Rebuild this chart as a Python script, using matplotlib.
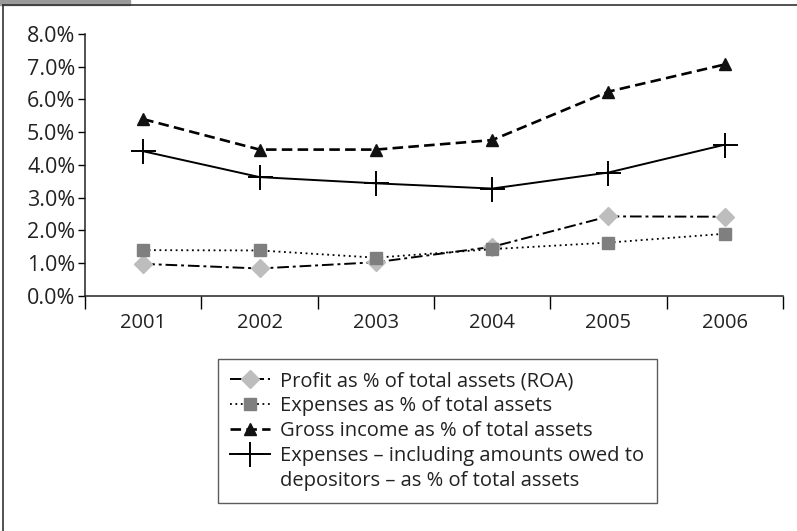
import numpy as np
import matplotlib
matplotlib.use("Agg")
import matplotlib.pyplot as plt
from matplotlib.ticker import FuncFormatter
from matplotlib.patches import Rectangle
from matplotlib.lines import Line2D

plt.rcParams['font.family'] = ['Open Sans', 'DejaVu Sans']

years = ['2001', '2002', '2003', '2004', '2005', '2006']
# values in percent of total assets
roa = [0.98, 0.84, 1.03, 1.50, 2.43, 2.42]
expenses = [1.40, 1.39, 1.17, 1.43, 1.63, 1.90]
gross_income = [5.40, 4.47, 4.47, 4.76, 6.24, 7.07]
expenses_incl = [4.42, 3.63, 3.44, 3.28, 3.77, 4.62]

labels = ['Profit as % of total assets (ROA)',
          'Expenses as % of total assets',
          'Gross income as % of total assets',
          'Expenses \u2013 including amounts owed to',
          'depositors \u2013 as % of total assets']

fig = plt.figure(figsize=(7.97, 5.31), dpi=100)
ax = fig.add_axes([0.1067, 0.4426, 0.8757, 0.4934])

x = np.arange(len(years))
l1, = ax.plot(x, roa, color='black', ls=(0, (6, 2, 1.5, 2)), lw=1.4,
              marker='D', ms=9, mfc='#bdbdbd', mec='#bdbdbd')
l2, = ax.plot(x, expenses, color='black', ls=(0, (1, 2)), lw=1.3,
              marker='s', ms=8.5, mfc='#7f7f7f', mec='#7f7f7f')
l3, = ax.plot(x, gross_income, color='black', ls=(0, (4, 2)), lw=1.9,
              marker='^', ms=9, mfc='#111111', mec='#111111')
l4, = ax.plot(x, expenses_incl, color='black', ls='-', lw=1.4,
              marker='+', ms=18, mew=1.4)
blank = Line2D([], [], color='none')

ax.set_xlim(-0.5, len(years) - 0.5)
ax.set_ylim(0, 8)
ax.set_yticks(np.arange(0, 8.1, 1))
ax.yaxis.set_major_formatter(FuncFormatter(lambda v, p: '%.1f%%' % v))
ax.set_xticks(np.arange(-0.5, len(years), 1))
ax.set_xticklabels([])
ax.set_xticks(x, minor=True)
ax.set_xticklabels(years, minor=True)
ax.tick_params(axis='x', which='major', length=9, width=1, direction='out')
ax.tick_params(axis='x', which='minor', length=0, pad=12, labelsize=14.5)
ax.tick_params(axis='y', length=5, width=1, direction='out', labelsize=15.5, pad=2)
for s in ['top', 'right']:
    ax.spines[s].set_visible(False)
for s in ['left', 'bottom']:
    ax.spines[s].set_color('#222222')
    ax.spines[s].set_linewidth(1.1)
for t in ax.get_xticklabels(minor=True) + ax.get_yticklabels():
    t.set_color('#222222')

leg = fig.legend([l1, l2, l3, l4, blank], labels, loc='upper left',
                 bbox_to_anchor=(0.2735, 0.324), bbox_transform=fig.transFigure,
                 fancybox=False, edgecolor='#333333', fontsize=14.5,
                 handlelength=2.0, handletextpad=0.5, labelspacing=0.25,
                 borderpad=0.6, borderaxespad=0, frameon=True)
leg.get_frame().set_linewidth(1.0)
for t in leg.get_texts():
    t.set_color('#222222')

# outer frame and grey tab
fig.add_artist(Line2D([3 / 797, 3 / 797], [0, 1 - 5 / 531], color='#333333', lw=1.2,
                      transform=fig.transFigure))
fig.add_artist(Line2D([3 / 797, 1], [1 - 5 / 531, 1 - 5 / 531], color='#333333', lw=1.2,
                      transform=fig.transFigure))
fig.add_artist(Rectangle((0, 1 - 5 / 531), 130 / 797, 5 / 531, color='#9a9a9a',
                         transform=fig.transFigure))

fig.savefig('out.png', dpi=100)
